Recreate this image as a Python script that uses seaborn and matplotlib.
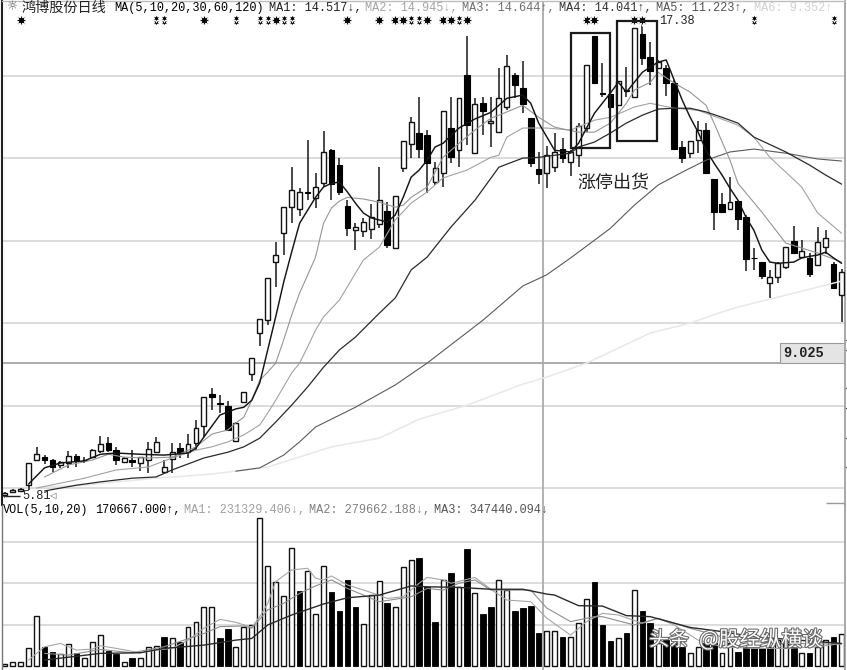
import numpy as np
import pandas as pd
import seaborn as sns
import matplotlib.pyplot as plt
import matplotlib.patheffects as pe
from matplotlib.patches import Rectangle

# daily candles, one value per trading day
opens = [5.83,5.90,5.93,6.07,6.68,6.75,6.68,6.56,6.61,6.78,6.68,6.75,6.90,7.09,6.92,6.63,6.68,6.61,6.68,6.87,
         6.39,6.70,6.97,6.87,7.09,7.50,8.28,8.06,7.99,7.14,8.09,8.76,9.76,10.07,11.48,12.18,12.81,12.76,13.18,13.03,
         13.39,14.19,13.83,12.84,12.25,12.23,12.28,12.40,12.71,11.82,13.76,14.34,14.61,14.56,13.42,13.64,14.73,14.19,16.01,14.12,
         15.33,14.85,14.63,15.24,16.01,15.70,14.97,13.73,13.64,13.78,14.22,13.90,14.07,14.73,16.96,15.58,15.55,15.28,15.65,15.48,
         17.01,16.45,16.18,16.18,15.82,14.27,14.12,14.44,14.68,13.49,12.88,12.76,12.96,12.57,11.58,11.48,10.97,11.12,11.36,11.99,
         11.60,11.58,11.41,11.84,11.43,10.68]
closes = [5.88,5.95,5.98,6.61,6.82,6.68,6.51,6.63,6.78,6.66,6.69,6.92,7.07,6.92,6.68,6.73,6.63,6.75,6.95,7.12,
          6.51,6.87,6.85,7.07,7.46,8.21,8.21,8.04,7.41,7.58,8.33,9.15,10.10,11.09,11.65,12.81,13.22,13.18,13.16,13.30,
          14.15,13.37,13.18,12.30,12.33,12.45,12.57,12.98,11.89,13.08,14.41,14.87,14.22,13.88,13.76,15.14,14.02,15.45,14.80,15.31,
          15.14,14.90,15.45,16.23,15.77,15.31,13.88,13.61,14.07,14.15,14.00,14.15,14.78,16.25,15.82,15.56,15.24,15.87,15.63,17.15,
          16.42,16.11,16.33,15.82,14.22,14.00,14.41,14.68,13.64,12.69,12.69,12.93,12.52,11.55,11.57,11.14,11.12,11.45,11.84,11.70,
          11.75,11.19,11.96,12.06,10.85,11.24]
highs = [5.90,5.97,6.00,6.61,7.00,6.80,6.70,6.66,6.90,6.82,6.75,6.95,7.26,7.24,7.00,6.75,6.92,6.75,7.12,7.24,
         6.68,7.09,7.09,7.31,7.65,8.21,8.42,8.26,8.11,7.60,8.33,9.15,10.10,11.09,11.96,12.81,13.78,13.27,14.44,13.64,
         14.65,14.22,14.00,12.98,12.42,12.55,12.88,13.78,12.93,13.08,14.41,14.99,15.48,14.68,13.90,15.14,15.48,15.45,16.96,15.45,
         15.48,15.48,16.18,16.50,16.06,16.35,14.97,14.15,14.29,14.61,14.48,14.19,14.85,16.25,16.96,16.30,15.65,15.87,16.21,17.15,
         17.39,16.81,16.38,16.25,15.89,14.41,14.41,14.90,14.85,13.49,13.15,13.54,12.96,12.62,11.82,11.48,11.29,11.48,11.84,12.35,
         12.01,11.70,12.33,12.25,11.48,11.31]
lows = [5.81,5.88,5.90,5.95,6.66,6.58,6.39,6.49,6.49,6.51,6.61,6.73,6.85,6.87,6.56,6.61,6.51,6.41,6.36,6.87,
        6.39,6.36,6.73,6.73,6.92,7.24,7.89,7.82,7.41,7.14,8.06,8.59,9.44,9.95,10.87,11.65,12.42,12.59,12.98,12.79,
        13.30,12.98,13.10,12.11,11.77,12.08,12.04,12.30,11.82,11.82,13.66,14.00,14.00,13.15,13.35,13.30,13.88,13.78,14.32,14.12,
        14.56,14.27,14.63,15.16,15.45,15.09,13.78,13.37,13.27,13.66,13.88,13.56,13.78,14.63,15.82,15.48,15.24,15.28,15.48,15.48,
        16.25,15.77,16.18,15.50,14.22,13.88,14.00,14.12,13.64,12.25,12.69,12.76,12.25,11.26,11.29,11.07,10.61,10.97,11.31,11.67,
        11.60,11.12,11.41,11.67,10.85,10.02]

# price moving averages, read at the days listed with them
ma1_days = [3,5,7,10,12,14,17,20,23,24,25,27,29,30,31,32,33,34,35,36,37,39,40,41,42,43,44,45,46,48,49,50,51,52,53,54,55,57,59,61,63,65,66,67,69,71,72,73,74,76,77,78,79,80,81,82,83,84,85,86,87,88,89,90,91,92,93,94,95,96,97,99,100,101,102,103,104,105]
ma1 = [6.10,6.49,6.61,6.66,6.82,6.85,6.82,6.80,6.85,6.97,7.24,7.77,7.92,7.96,8.13,8.55,9.35,10.15,10.99,11.72,12.42,13.05,13.30,13.39,13.42,13.18,12.91,12.67,12.55,12.45,12.62,13.05,13.54,13.71,13.95,14.27,14.36,14.73,14.95,15.11,15.45,15.53,15.33,14.85,14.19,14.15,14.36,14.73,15.09,15.58,15.84,15.60,15.84,16.08,16.21,16.33,16.38,15.89,15.41,14.99,14.63,14.19,13.88,13.59,13.27,12.98,12.57,12.25,11.77,11.48,11.45,11.48,11.58,11.62,11.65,11.72,11.58,11.45]
ma2_days = [5,8,11,13,15,18,21,24,26,28,29,30,31,32,33,34,35,36,37,38,39,40,41,42,43,45,47,49,50,51,53,55,57,59,61,62,65,67,69,72,74,76,77,78,79,81,82,84,86,88,89,91,92,95,98,100,102,105]
ma2 = [6.27,6.56,6.68,6.82,6.75,6.73,6.75,7.00,7.31,7.41,7.58,7.72,8.13,8.62,8.81,9.03,9.59,10.19,10.73,11.16,11.60,12.42,12.79,12.96,13.05,13.01,12.93,12.81,12.86,13.05,13.30,14.02,14.36,14.68,14.97,15.04,15.28,14.99,14.75,14.63,14.63,14.85,15.09,15.33,15.65,15.84,16.08,15.82,15.60,15.28,14.85,13.95,13.39,12.69,11.94,11.82,11.70,11.48]
ma3_days = [4,7,10,14,18,21,24,26,28,30,32,33,34,36,37,38,39,40,42,45,47,49,51,53,55,58,61,62,63,65,68,71,74,76,79,81,84,87,92,94,96,100,102,105]
ma3 = [6.00,6.12,6.24,6.44,6.51,6.73,6.92,7.00,7.12,7.29,7.53,7.82,8.13,8.79,9.03,9.42,9.83,10.15,10.56,11.53,11.84,12.50,12.91,13.18,13.52,13.71,14.02,14.07,14.51,14.73,14.73,14.68,14.92,14.99,15.24,15.33,15.21,15.16,14.80,14.51,14.02,13.30,12.67,12.18]
ma4_days = [5,9,12,16,19,21,25,28,30,32,34,36,38,40,42,44,47,49,51,53,56,59,62,65,67,69,71,72,74,76,78,80,82,84,86,88,90,92,94,98,101,103,105]
ma4 = [5.93,6.07,6.15,6.24,6.27,6.44,6.73,6.87,7.00,7.21,7.60,8.01,8.45,8.93,9.35,9.66,10.24,10.61,11.29,11.60,12.33,12.98,13.78,14.00,14.02,14.07,14.12,14.27,14.39,14.61,14.85,15.04,15.19,15.21,15.21,15.12,14.99,14.85,14.51,14.15,13.83,13.59,13.37]
ma5_days = [29,32,35,37,39,44,49,53,60,65,68,71,74,76,79,82,85,88,91,94,98,102,105]
ma5 = [6.41,6.49,6.80,7.12,7.48,7.96,8.50,9.03,10.07,10.90,11.17,11.58,12.01,12.30,12.86,13.35,13.66,13.95,14.15,14.22,14.12,13.98,13.93]
ma6_days = [4,10,19,26,33,41,47,52,58,65,68,73,81,86,90,92,96,103,105]
ma6 = [6.02,6.07,6.24,6.34,6.51,7.00,7.21,7.67,8.01,8.52,8.69,9.03,9.76,10.00,10.27,10.39,10.58,10.92,11.02]

# volume in thousands
volumes = [8,18,18,88,243,90,69,56,104,61,40,114,149,72,56,19,40,40,93,98,
           141,133,114,190,214,286,286,133,177,93,190,198,712,482,407,337,567,362,460,249,
           482,357,265,415,283,201,342,411,305,286,476,511,522,382,214,415,450,382,562,350,
           249,283,415,366,265,281,289,157,170.667,169,141,138,206,321,403,198,122,133,157,366,
           265,209,109,125,109,93,61,93,109,109,61,109,69,93,85,85,93,125,125,93,
           64,61,93,125,141,154]
black_vol_days = [5,6,9,13,14,16,20,22,27,28,37,41,42,43,44,48,52,53,54,56,58,60,61,64,65,66,67,70,74,75,76,78,80,81,83,84,85,88,89,92,93,94,95,96,99,101,104]

vma1_days = [3,5,7,9,11,12,14,17,19,21,23,25,27,29,31,32,33,34,36,38,39,40,41,43,46,48,50,52,53,55,56,59,61,63,66,68,71,73,75,77,80,82,84,87,90,94,98,102,105]
vma1 = [29,93,109,77,82,98,85,64,77,85,125,182,225,211,186,238,302,407,463,471,423,415,434,391,354,326,334,399,427,415,399,427,370,318,310,231,149,214,254,246,206,230,198,125,93,85,85,93,109]
vma2_days = [5,8,12,16,20,25,27,30,31,33,35,37,39,41,43,45,47,51,53,55,57,59,61,66,68,71,74,75,79,82,86,90,94,98,105]
vma2 = [61,53,80,64,93,157,190,193,182,270,302,350,386,415,374,342,310,334,374,366,399,415,366,366,280,214,238,238,198,230,182,141,117,109,106]
vma3_days = [5,12,17,20,25,29,31,33,36,40,43,47,51,53,57,61,65,68,69,72,75,78,81,86,90,94,105]
vma3 = [29,61,64,85,101,125,133,198,246,299,329,342,386,382,379,370,370,347,342,291,289,243,238,186,166,141,109]

# signal row along the top of the price panel
star_days = [2,25,34,43,47,49,50,53,55,56,58,73,74,79,80]
double_days = [19,20,29,32,33,35,36,51,52,57,94,104]
signal_price = 17.35

low_price = 5.81
price_grid = [6,8,10,12,14,16]
right_ticks = [9.59,9.35,8.42,7.94,7.21,6.51]
vol_grid = [200,400,600]
cursor_day = 67.6
cursor_price = 9.025

# the two hand drawn boxes: first day, last day, low price, high price
box1 = [71.0,76.0,14.24,17.03]
box2 = [76.8,81.85,14.41,17.32]

sns.set_theme(style="white")
plt.rcParams['font.family'] = ['Liberation Mono', 'DejaVu Sans Mono', 'Noto Sans CJK SC']

days = np.arange(len(opens))
W, H = 847, 670
fig = plt.figure(figsize=(W / 100, H / 100), dpi=100, facecolor='white')
ax = fig.add_axes([1.5 / W, 1 - 505 / H, 843.5 / W, 504 / H])
ax_vol = fig.add_axes([1.5 / W, 0, 843.5 / W, 165 / H])


def label(x, y, s, **kw):
    kw.setdefault('fontsize', 8.6)
    kw.setdefault('color', 'black')
    return fig.text(x / W, 1 - y / H, s, ha='left', va='center', **kw)


# candles
o, c = np.array(opens), np.array(closes)
ax.vlines(days, lows, highs, color='#2a2a2a', lw=1.2, zorder=2)
up = c >= o
ax.bar(days[up], (c - o)[up], bottom=o[up], width=0.62, color='white', edgecolor='#111111', linewidth=1.0, zorder=3)
ax.bar(days[~up], (c - o)[~up], bottom=o[~up], width=0.7, color='black', edgecolor='black', linewidth=0.8, zorder=3)

for xs, ys, col, lw in [(ma6_days, ma6, '#e8e8e8', 1.1), (ma5_days, ma5, '#5a5a5a', 0.8),
                        (ma3_days, ma3, '#a2a2a2', 0.8), (ma2_days, ma2, '#959595', 0.8),
                        (ma4_days, ma4, '#2a2a2a', 0.9), (ma1_days, ma1, '#151515', 1.05)]:
    sns.lineplot(x=xs, y=ys, color=col, lw=lw, ax=ax, zorder=4, estimator=None, errorbar=None)

sns.scatterplot(x=star_days, y=[signal_price] * len(star_days), marker=(8, 1, 0), s=70, color='black', linewidth=0.6, ax=ax, zorder=5)
# the narrow signal is two small blobs on top of each other
for shift in (-0.055, 0.055):
    sns.scatterplot(x=double_days, y=[signal_price + shift] * len(double_days), marker=(6, 1, 0), s=32, color='black', linewidth=0.7, ax=ax, zorder=5)

for b in (box1, box2):
    ax.add_patch(Rectangle((b[0], b[2]), b[1] - b[0], b[3] - b[2], fill=False, edgecolor='#1a1a1a', lw=1.6, zorder=6))

ax.axvline(cursor_day, color='#ababab', lw=1.3, zorder=1)
ax.axhline(cursor_price, color='#ababab', lw=1.4, zorder=1)
ax.hlines(5.64, 103, 105.43, color='#999999', lw=1, zorder=1)
ax.hlines(low_price, 0.1, 1.9, color='#222222', lw=1, zorder=5)
ax.add_patch(Rectangle((97.27, cursor_price), 8.2, 0.485, facecolor='#e4e4e4', edgecolor='#9a9a9a', lw=0.8, zorder=2))

ax.set_xlim(-0.40, 105.43)
ax.set_ylim(5.59, 17.81)
ax.set_yticks(price_grid)
ax.set_yticks(right_ticks, minor=True)
ax.set_xticks([])
ax.grid(axis='y', which='major', color='#d2d2d2', lw=1.1)
ax.set_axisbelow(True)
ax.tick_params(which='major', left=False, labelleft=False, bottom=False, labelbottom=False)
ax.tick_params(which='minor', left=False, right=True, length=1.5, width=0.8, color='#444444')
ax.set_xlabel('')
ax.set_ylabel('')
ax.spines['left'].set(color='#222222', lw=1.5)
ax.spines['right'].set(color='#9a9a9a', lw=1.2)
ax.spines['top'].set(color='#bdbdbd', lw=1.0)
ax.spines['bottom'].set_visible(False)

# volume panel
vol_df = pd.DataFrame({'day': days, 'vol': volumes})
black_mask = vol_df['day'].isin(black_vol_days)
sns.barplot(data=vol_df[~black_mask], x='day', y='vol', native_scale=True, width=0.62, color='white',
            saturation=1, edgecolor='#111111', linewidth=1.0, ax=ax_vol, zorder=2)
sns.barplot(data=vol_df[black_mask], x='day', y='vol', native_scale=True, width=0.7, color='black',
            saturation=1, edgecolor='black', linewidth=0.6, ax=ax_vol, zorder=2)
for xs, ys, col, lw in [(vma1_days, vma1, '#a6a6a6', 0.8), (vma2_days, vma2, '#8e8e8e', 0.8), (vma3_days, vma3, '#2a2a2a', 1.0)]:
    sns.lineplot(x=xs, y=ys, color=col, lw=lw, ax=ax_vol, zorder=4, estimator=None, errorbar=None)

ax_vol.axvline(cursor_day, color='#ababab', lw=1.3, zorder=1)
ax_vol.set_xlim(-0.40, 105.43)
ax_vol.set_ylim(-19, 776)
ax_vol.set_yticks(vol_grid)
ax_vol.set_xticks([])
ax_vol.grid(axis='y', color='#d2d2d2', lw=1.1)
ax_vol.set_axisbelow(True)
ax_vol.tick_params(left=False, labelleft=False, bottom=False, labelbottom=False)
ax_vol.set_xlabel('')
ax_vol.set_ylabel('')
ax_vol.spines['left'].set(color='#777777', lw=1.0)
ax_vol.spines['right'].set(color='#9a9a9a', lw=1.2)
ax_vol.spines['top'].set_visible(False)
ax_vol.spines['bottom'].set_visible(False)

# header row
label(7, 7, '\u263c', fontsize=9, color='#555555', family=['DejaVu Sans'])
label(22, 8, '鸿博股份日线', fontsize=10.2, color='#222222', family=['Noto Sans CJK SC'])
label(114, 8, 'MA(5,10,20,30,60,120)')
label(269, 8, 'MA1: 14.517↓,', color='#222222')
label(365, 8, 'MA2: 14.945↓,', color='#a5a5a5')
label(462, 8, 'MA3: 14.644↑,', color='#707070')
label(559, 8, 'MA4: 14.041↑,', color='#333333')
label(656, 8, 'MA5: 11.223↑,', color='#555555')
label(754, 8, 'MA6: 9.352↑', color='#d0d0d0')
label(659, 21, '17.38', color='#222222')
label(3, 495.5, '←', fontsize=7, color='#222222', family=['DejaVu Sans Mono'])
label(22, 496, '5.81', color='#222222')
label(49, 496, '◁', fontsize=6, color='#444444', family=['DejaVu Sans'])
label(783, 353, '9.025', fontsize=9.8, weight='bold', color='#222222')
label(577, 183, '涨停出货', fontsize=13, color='#222222', family=['Noto Sans CJK SC'])

label(3, 510, 'VOL(5,10,20)')
label(95, 510, '170667.000↑,')
label(184, 510, 'MA1: 231329.406↓,', color='#a0a0a0')
label(309, 510, 'MA2: 279662.188↓,', color='#808080')
label(434, 510, 'MA3: 347440.094↓', color='#555555')

stroke = [pe.withStroke(linewidth=1.5, foreground='#666666')]
label(649, 640, '头条', fontsize=14.4, color='white', family=['Noto Sans CJK SC'], path_effects=stroke, zorder=10)
label(699, 640, '@股经纵横谈', fontsize=15, color='white', family=['Noto Sans CJK SC'], path_effects=stroke, zorder=10)

plt.savefig('out.png', dpi=100)
plt.close()
